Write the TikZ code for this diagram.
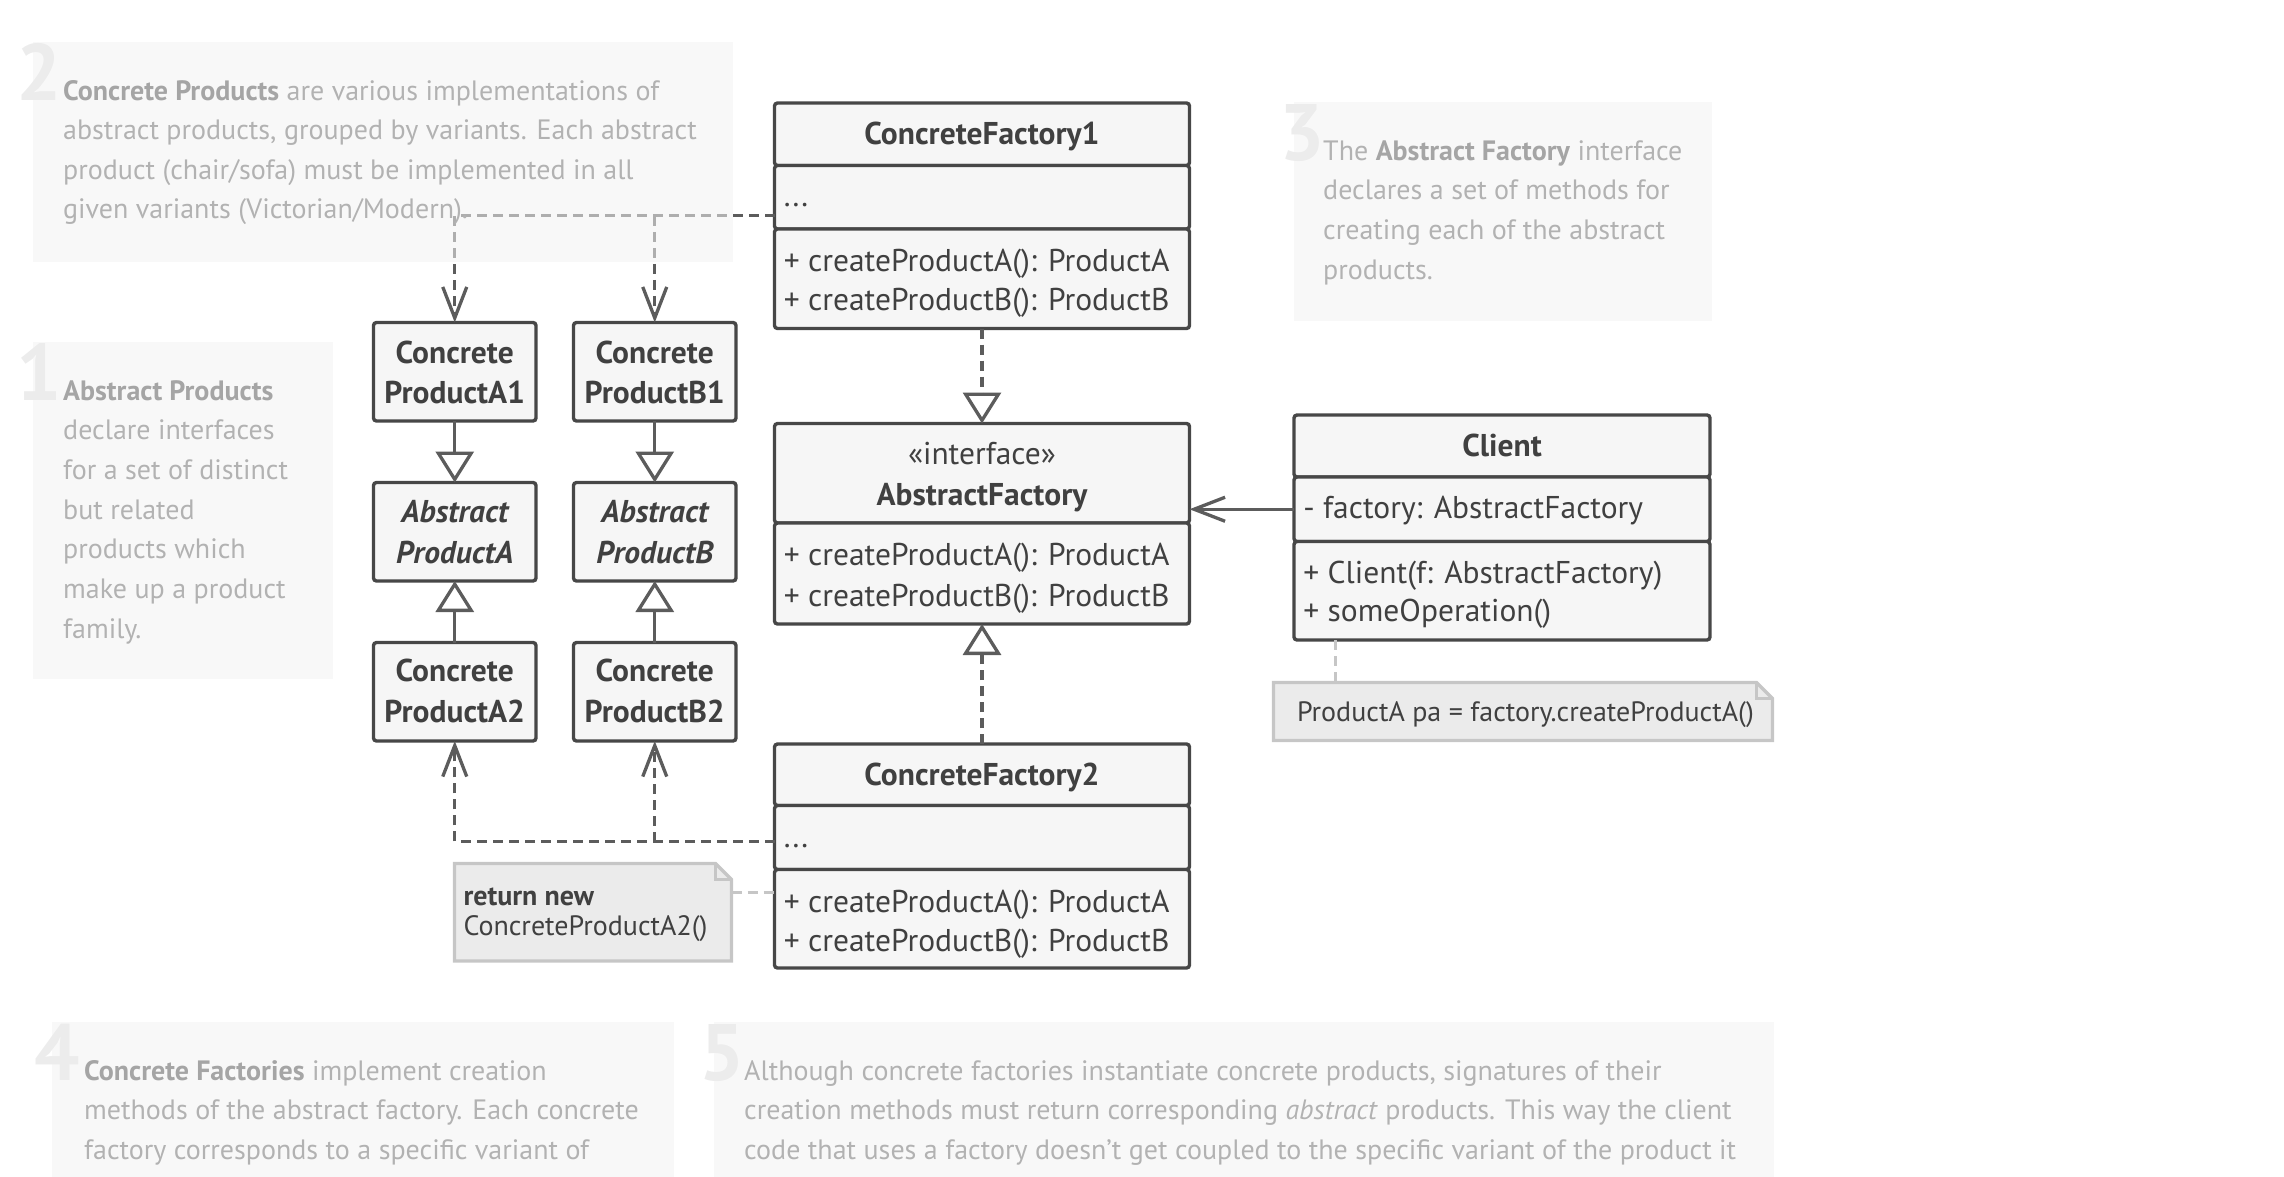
\documentclass[tikz,border=0pt]{standalone}
\usepackage{fontspec}
\setmainfont{PT Sans}
\usetikzlibrary{arrows.meta,calc}
\definecolor{bord}{HTML}{474747}
\definecolor{boxfill}{HTML}{F6F6F6}
\definecolor{txt}{HTML}{404040}
\definecolor{lnc}{HTML}{5C5C5C}
\definecolor{notefill}{HTML}{EBEBEB}
\definecolor{noteborder}{HTML}{C6C6C6}
\definecolor{bgfill}{HTML}{F3F3F3}
\definecolor{bgtxt}{HTML}{B2B2B2}
\definecolor{bgbold}{HTML}{A5A5A5}
\definecolor{numc}{HTML}{ECECEC}
\newcommand\bb[1]{{\bfseries\color{bgbold}#1}}
\begin{document}
\begin{tikzpicture}[x=1pt,y=-1pt,
  comp/.style={draw=bord, line width=3.4pt, fill=boxfill, rounded corners=3pt,
    inner sep=0pt, outer sep=0pt, anchor=north west},
  ctext/.style={inner sep=0pt, anchor=base west, text=txt, font=\fontsize{31.5}{36}\selectfont},
  ctitle/.style={inner sep=0pt, anchor=base, text=txt, font=\fontsize{31.5}{36}\selectfont\bfseries},
  ptitle/.style={inner sep=0pt, anchor=base, text=txt, font=\fontsize{31.5}{36}\selectfont\bfseries},
  pitalic/.style={inner sep=0pt, anchor=base, text=txt, font=\fontsize{31.5}{36}\selectfont\bfseries\itshape},
  dep/.style={draw=lnc, line width=3.3pt, dash pattern=on 10pt off 6pt},
  solidln/.style={draw=lnc, line width=3.3pt},
  tri/.style={-{Triangle[open, length=31pt, width=38pt]}},
  vee/.style={-{Straight Barb[length=31pt, width=24pt]}},
  notebox/.style={inner sep=0pt, outer sep=0pt, anchor=north west},
  noteline/.style={draw=noteborder, fill=notefill, line width=3.4pt},
  notelink/.style={draw=noteborder, line width=3.3pt, dash pattern=on 10pt off 6pt},
  ntxt/.style={inner sep=0pt, anchor=base west, text=txt, font=\fontsize{28}{32}\selectfont},
  bgnote/.style={fill=bgfill, fill opacity=0.55, inner sep=0pt, outer sep=0pt, anchor=north west},
  bgtext/.style={inner sep=0pt, anchor=base west, text=bgtxt, font=\fontsize{28}{32}\selectfont},
  numst/.style={inner sep=0pt, anchor=base west, text=numc, font=\fontsize{80}{80}\selectfont\bfseries}
]
\useasboundingbox (0,0) rectangle (2284,1176);
\clip (0,0) rectangle (2284,1176);

% ---------- ConcreteFactory1 ----------
\node[comp, minimum width=415pt, minimum height=62.5pt] (cf1t) at (774.5,103) {};
\node[comp, minimum width=415pt, minimum height=63.5pt] (cf1f) at (774.5,165.5) {};
\node[comp, minimum width=415pt, minimum height=99.5pt] (cf1m) at (774.5,229) {};
\node[ctitle] (cf1ttl) at (982,144.3) {ConcreteFactory1};
\node[ctext] (cf1dots) at (783.6,206) {...};
\node[ctext] (cf1m1) at (783.6,271) {+ createProductA(): ProductA};
\node[ctext] (cf1m2) at (783.6,310.4) {+ createProductB(): ProductB};

% ---------- AbstractFactory ----------
\node[comp, minimum width=415pt, minimum height=99.5pt] (aft) at (774.5,423.5) {};
\node[comp, minimum width=415pt, minimum height=101pt] (afm) at (774.5,523) {};
\node[inner sep=0pt, anchor=base, text=txt, font=\fontsize{31.5}{36}\selectfont] (afst) at (982,464) {«interface»};
\node[ctitle] (afttl) at (982,505) {AbstractFactory};
\node[ctext] (afm1) at (783.6,565.7) {+ createProductA(): ProductA};
\node[ctext] (afm2) at (783.6,606.8) {+ createProductB(): ProductB};

% ---------- ConcreteFactory2 ----------
\node[comp, minimum width=415pt, minimum height=61.5pt] (cf2t) at (774.5,744) {};
\node[comp, minimum width=415pt, minimum height=64pt] (cf2f) at (774.5,805.5) {};
\node[comp, minimum width=415pt, minimum height=98.5pt] (cf2m) at (774.5,869.5) {};
\node[ctitle] (cf2ttl) at (982,785.7) {ConcreteFactory2};
\node[ctext] (cf2dots) at (783.6,847) {...};
\node[ctext] (cf2m1) at (783.6,912.3) {+ createProductA(): ProductA};
\node[ctext] (cf2m2) at (783.6,951.7) {+ createProductB(): ProductB};

% ---------- Client ----------
\node[comp, minimum width=416pt, minimum height=62pt] (clt) at (1294,415) {};
\node[comp, minimum width=416pt, minimum height=64.5pt] (clf) at (1294,477) {};
\node[comp, minimum width=416pt, minimum height=98.5pt] (clm) at (1294,541.5) {};
\node[ctitle] (clttl) at (1502,456) {Client};
\node[ctext] (clf1) at (1303.2,518.3) {- factory: AbstractFactory};
\node[ctext] (clm1) at (1303.2,583.3) {+ Client(f: AbstractFactory)};
\node[ctext] (clm2) at (1303.2,621.7) {+ someOperation()};

% ---------- Products ----------
\node[comp, minimum width=162.5pt, minimum height=98.5pt] (ca1) at (373.5,322.5) {};
\node[comp, minimum width=162.5pt, minimum height=98.5pt] (cb1) at (573.5,322.5) {};
\node[comp, minimum width=162.5pt, minimum height=98.5pt] (apa) at (373.5,482.5) {};
\node[comp, minimum width=162.5pt, minimum height=98.5pt] (apb) at (573.5,482.5) {};
\node[comp, minimum width=162.5pt, minimum height=98.5pt] (ca2) at (373.5,642.5) {};
\node[comp, minimum width=162.5pt, minimum height=98.5pt] (cb2) at (573.5,642.5) {};
\node[ptitle] at (454.75,363.3) {Concrete};
\node[ptitle] at (454.75,403.3) {ProductA1};
\node[ptitle] at (654.75,363.3) {Concrete};
\node[ptitle] at (654.75,403.3) {ProductB1};
\node[pitalic] at (454.75,522.7) {Abstract};
\node[pitalic] at (454.75,563.3) {ProductA};
\node[pitalic] at (654.75,522.7) {Abstract};
\node[pitalic] at (654.75,563.3) {ProductB};
\node[ptitle] at (454.75,681.7) {Concrete};
\node[ptitle] at (454.75,722.7) {ProductA2};
\node[ptitle] at (654.75,681.7) {Concrete};
\node[ptitle] at (654.75,722.7) {ProductB2};

% ---------- Notes ----------
\node[notebox, minimum width=277pt, minimum height=97.5pt] (nret) at (454.5,863.5) {};
\draw[noteline] (nret.north west) -- ([xshift=-16pt]nret.north east) -- ([yshift=-16pt]nret.north east) -- (nret.south east) -- (nret.south west) -- cycle;
\draw[draw=noteborder, line width=3.4pt] ([xshift=-16pt]nret.north east) -- ([xshift=-16pt,yshift=-16pt]nret.north east) -- ([yshift=-16pt]nret.north east);
\node[ntxt] (nret1) at (463.3,905.7) {\bfseries return new};
\node[ntxt] (nret2) at (463.3,935) {ConcreteProductA2()};

\node[notebox, minimum width=499pt, minimum height=58pt] (npa) at (1273.5,682.5) {};
\draw[noteline] (npa.north west) -- ([xshift=-16pt]npa.north east) -- ([yshift=-16pt]npa.north east) -- (npa.south east) -- (npa.south west) -- cycle;
\draw[draw=noteborder, line width=3.4pt] ([xshift=-16pt]npa.north east) -- ([xshift=-16pt,yshift=-16pt]npa.north east) -- ([yshift=-16pt]npa.north east);
\node[ntxt] (npa1) at (1296.8,721.7) {ProductA pa = factory.createProductA()};

% ---------- Connectors ----------
\coordinate (cf1o) at ([yshift=-18.5pt]cf1f.west);
\draw[dep, vee] (cf1o) -| (ca1.north);
\draw[dep, vee] (cf1o -| cb1.north) -- (cb1.north);
\coordinate (cf2o) at ([yshift=-4pt]cf2f.west);
\draw[dep, vee] (cf2o) -| (ca2.south);
\draw[dep, vee] (cf2o -| cb2.south) -- (cb2.south);
\draw[dep, tri] (cf1m.south) -- (aft.north);
\draw[dep, tri] (cf2t.north) -- (afm.south);
\draw[solidln, vee] (clf.west) -- (clf.west -| aft.east);
\draw[solidln, tri] (ca1.south) -- (apa.north);
\draw[solidln, tri] (cb1.south) -- (apb.north);
\draw[solidln, tri] (ca2.north) -- (apa.south);
\draw[solidln, tri] (cb2.north) -- (apb.south);
\coordinate (clnote) at ([xshift=41.7pt]clm.south west);
\draw[notelink] (clnote) -- (clnote |- npa.north);
\coordinate (retnote) at ([yshift=20pt]nret.east);
\draw[notelink] (retnote) -- (retnote -| cf2m.west);

% ---------- Background explanation notes ----------
\node[bgnote, minimum width=700pt, minimum height=220pt] (n2) at (33,42) {};
\node[numst] at (16,100) {2};
\node[bgtext] at (63,100) {\bb{Concrete Products} are various implementations of};
\node[bgtext] at (63,139.5) {abstract products, grouped by variants. Each abstract};
\node[bgtext] at (63,179) {product (chair/sofa) must be implemented in all};
\node[bgtext] at (63,218.5) {given variants (Victorian/Modern).};

\node[bgnote, minimum width=300pt, minimum height=337pt] (n1) at (33,342) {};
\node[numst] at (16,400) {1};
\node[bgtext] at (63,400) {\bb{Abstract Products}};
\node[bgtext] at (63,439.7) {declare interfaces};
\node[bgtext] at (63,479.4) {for a set of distinct};
\node[bgtext] at (63,519.1) {but related};
\node[bgtext] at (63,558.8) {products which};
\node[bgtext] at (63,598.5) {make up a product};
\node[bgtext] at (63,638.2) {family.};

\node[bgnote, minimum width=418pt, minimum height=219pt] (n3) at (1294,102) {};
\node[numst] at (1279,160) {3};
\node[bgtext] at (1323,160) {The \bb{Abstract Factory} interface};
\node[bgtext] at (1323,199.7) {declares a set of methods for};
\node[bgtext] at (1323,239.4) {creating each of the abstract};
\node[bgtext] at (1323,279.1) {products.};

\node[bgnote, minimum width=622pt, minimum height=180pt] (n4) at (52,1022) {};
\node[numst] at (34,1080) {4};
\node[bgtext] at (84,1080) {\bb{Concrete Factories} implement creation};
\node[bgtext] at (84,1119.7) {methods of the abstract factory. Each concrete};
\node[bgtext] at (84,1159.4) {factory corresponds to a specific variant of};

\node[bgnote, minimum width=1060pt, minimum height=180pt] (n5) at (714,1022) {};
\node[numst] at (699,1080) {5};
\node[bgtext] at (744,1080) {Although concrete factories instantiate concrete products, signatures of their};
\node[bgtext] at (744,1119.7) {creation methods must return corresponding \textit{abstract} products. This way the client};
\node[bgtext] at (744,1159.4) {code that uses a factory doesn’t get coupled to the specific variant of the product it};
\end{tikzpicture}
\end{document}
